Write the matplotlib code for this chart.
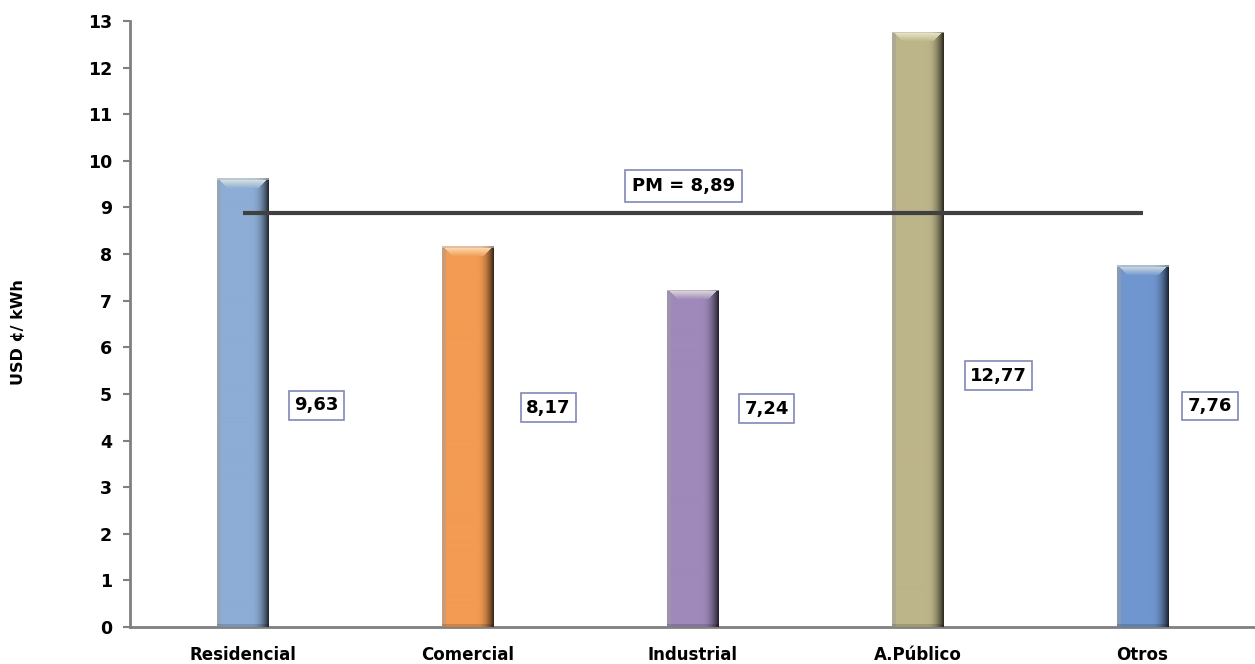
import numpy as np
import matplotlib
matplotlib.use("Agg")
import matplotlib.pyplot as plt
from matplotlib.colors import to_rgb

categories = ["Residencial", "Comercial", "Industrial", "A.Público", "Otros"]
values = [9.63, 8.17, 7.24, 12.77, 7.76]
value_labels = ["9,63", "8,17", "7,24", "12,77", "7,76"]
pm_value = 8.89
pm_label = "PM = 8,89"
y_ticks = list(range(0, 14))

# layout (not data)
bar_colors = ["#8DADD6", "#F39B52", "#9E89BA", "#BDB58A", "#7096D0"]
label_y = [4.76, 4.70, 4.68, 5.39, 4.74]
label_dx = [0.33, 0.36, 0.33, 0.36, 0.30]

plt.rcParams['font.family'] = ['DejaVu Sans']
fig = plt.figure(figsize=(12.55, 6.64), dpi=100)
ax = fig.add_axes([0.1036, 0.0557, 0.8964, 0.9127])

x = np.arange(len(categories))
bars = ax.bar(x, values, width=0.23, color=bar_colors, zorder=2, linewidth=0)

ax.set_xlim(-0.5, 4.5)
ax.set_ylim(0, 13)


def shaded_image(base, h_px, w_px=52):
    base = np.array(to_rgb(base))
    u = np.linspace(0, 1, w_px)
    img = np.zeros((h_px, w_px, 3))
    gray = np.array([0.62, 0.62, 0.62])
    for j, t in enumerate(u):
        if t < 0.07:
            c = 0.5 * base + 0.5 * gray
        elif t < 0.66:
            c = base
        else:
            k = (t - 0.66) / 0.34
            c = base * (1 - 0.75 * k ** 2.2)
        img[:, j, :] = c
    bev = 10
    for i in range(min(bev, h_px)):
        for j in range(w_px):
            if i < 2:
                img[i, j, :] = 0.45 * img[i, j, :] + 0.55 * np.array([0.86, 0.86, 0.86])
            elif j >= i + 1 and j < w_px - i - 1:
                hl = 1.0 - (i - 2) / (bev - 2)
                img[i, j, :] = (1 - 0.6 * hl) * base + 0.6 * hl * np.array([1.0, 1.0, 0.9])
    for i in range(max(h_px - 3, 0), h_px):
        img[i, :, :] *= 0.85
    return np.clip(img, 0, 1)


for b, col in zip(bars, bar_colors):
    x0 = b.get_x(); w = b.get_width(); h = b.get_height()
    h_px = max(int(h * 46.6), 12)
    img = shaded_image(col, h_px)
    im = ax.imshow(img, extent=(x0, x0 + w, 0, h), aspect='auto', zorder=3,
                   interpolation='bilinear')
    im.set_clip_path(b)

ax.plot([x[0], x[-1]], [pm_value, pm_value], color="#404040", lw=3, zorder=4,
        solid_capstyle='butt')

def boxprops(pad=0.3):
    return dict(boxstyle=f"square,pad={pad}", fc="white", ec="#8088B8", lw=1.2)

ax.text(1.96, 9.46, pm_label, ha="center", va="center", fontsize=13,
        fontweight="bold", bbox=boxprops(0.4), zorder=5)
for xi, lab, ly, dx in zip(x, value_labels, label_y, label_dx):
    ax.text(xi + dx, ly, lab, ha="center", va="center", fontsize=13,
            fontweight="bold", bbox=boxprops(0.3), zorder=5)

ax.set_xticks(x)
ax.set_xticklabels(categories, fontsize=12, fontweight="bold")
ax.tick_params(axis='x', length=0, pad=14)
ax.set_yticks(y_ticks)
ax.set_yticklabels([str(t) for t in y_ticks], fontsize=12.5, fontweight="bold")
ax.tick_params(axis='y', length=5, width=1.5, color="#808080", pad=8)

for s in ["top", "right"]:
    ax.spines[s].set_visible(False)
for s in ["left", "bottom"]:
    ax.spines[s].set_color("#808080")
    ax.spines[s].set_linewidth(2)

fig.text(0.0145, 0.5, "USD ¢/ kWh", rotation=90, ha="center", va="center",
         fontsize=11.5, fontweight="bold")

fig.savefig("out.png", dpi=100)
